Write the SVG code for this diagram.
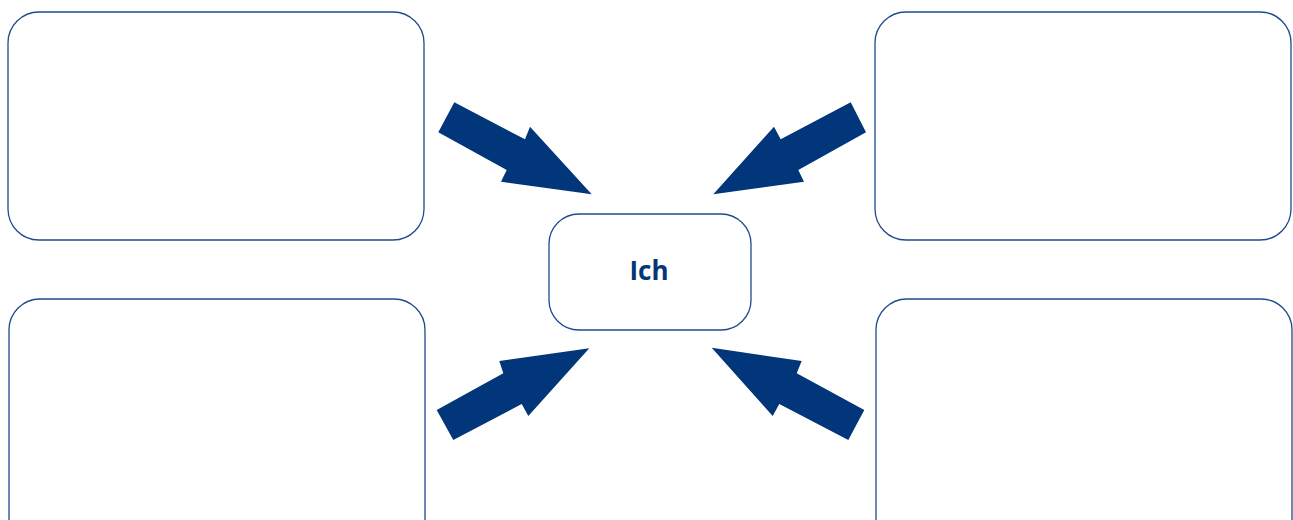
<svg xmlns="http://www.w3.org/2000/svg" width="1293" height="520" viewBox="0 0 1293 520">
<style>
.box{fill:#ffffff;stroke:#1f4a8e;stroke-width:1.3}
.arrow{fill:#02367b;stroke:none}
.label{font-family:"Open Sans","Noto Sans",sans-serif;font-weight:bold;font-size:26px;fill:#02367b;text-anchor:middle}
</style>
<rect width="1293" height="520" fill="#ffffff"/>
<g id="box-top-left"><rect class="box" x="8" y="12" width="416" height="228" rx="31"/></g>
<g id="box-top-right"><rect class="box" x="875" y="12" width="416" height="228" rx="31"/></g>
<g id="box-bottom-left"><rect class="box" x="9" y="299" width="416" height="260" rx="31"/></g>
<g id="box-bottom-right"><rect class="box" x="876" y="299" width="416" height="260" rx="31"/></g>
<g id="ich"><rect class="box" x="549" y="214" width="202" height="116" rx="30"/><text class="label" x="649" y="280">Ich</text></g>
<g id="connectors">
<polygon class="arrow" points="454.3,102.3 525,139.3 530,126.7 591.7,194.3 501,181.7 506.7,170 438.3,132.3"/>
<polygon class="arrow" points="850.7,102.3 780.7,139.3 774,126.7 713.3,194.3 804,181.7 798.3,170 866,132.3"/>
<polygon class="arrow" points="453.3,440 521.7,404 528.3,416 589.3,348.3 499.3,361 503.3,373.3 436.7,410"/>
<polygon class="arrow" points="848.3,440 779.3,404 772.7,416 711.7,347.7 801.7,361 796.7,373.3 864.3,410"/>
</g>
</svg>
